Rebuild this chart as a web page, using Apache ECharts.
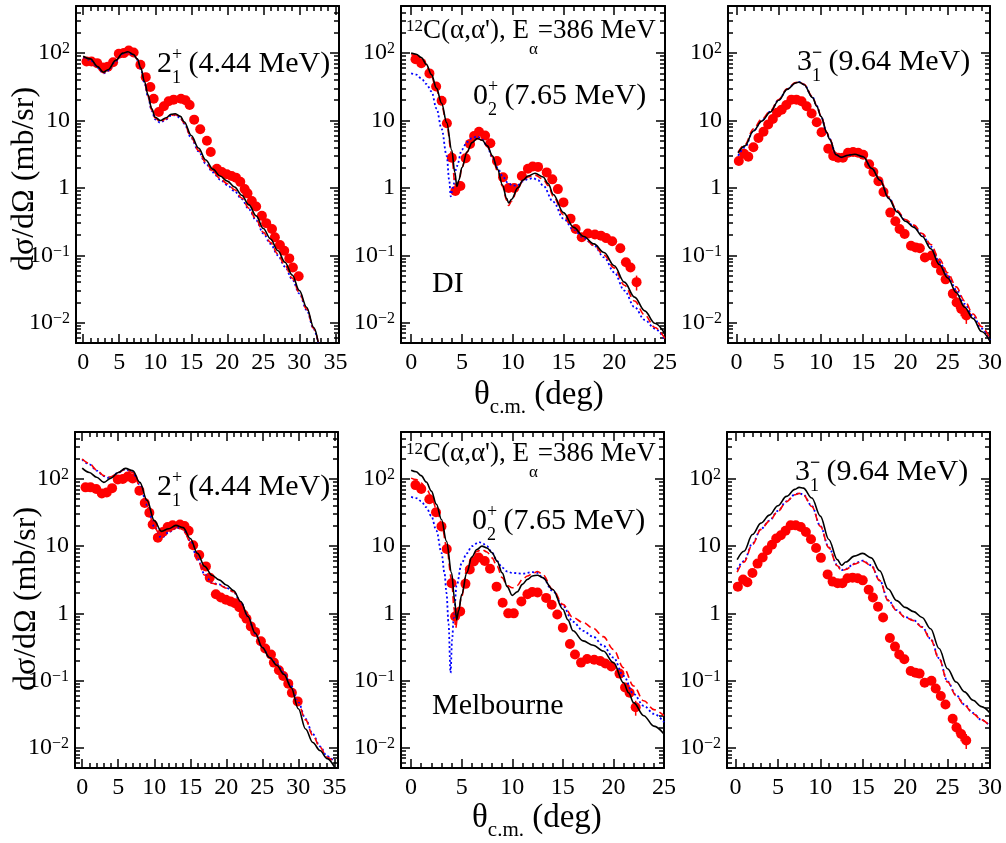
<!DOCTYPE html>
<html><head><meta charset="utf-8">
<script src="https://cdn.jsdelivr.net/npm/echarts@6/dist/echarts.min.js"></script>
<style>html,body{margin:0;padding:0;background:#fff}#c{width:1006px;height:843px}</style>
</head><body><div id="c"></div>
<script>
const FONT = '"Liberation Serif", "Times New Roman", serif';

// ---------- tick labels ----------
const xTicks35 = [0, 5, 10, 15, 20, 25, 30, 35];
const xTicks25 = [0, 5, 10, 15, 20, 25];
const xTicks30 = [0, 5, 10, 15, 20, 25, 30];
const yTickExp = [-2, -1, 0, 1, 2];
const yTickLabels = ['10{s|\u22122}', '10{s|\u22121}', '1', '10', '10{s|2}'];
const yMin = 0.005, yMax = 500;

// ---------- experimental data (same data in both rows) ----------
const ang2 = [0.46,1.15,1.94,2.72,3.41,4.15,4.94,5.63,6.32,7.0,7.94,8.68,9.32,9.78,10.5,11.2,11.86,12.55,13.57,14.2,14.77,15.4,16.24,17.17,17.7,18.55,19.24,19.94,20.6,21.2,21.8,22.4,22.8,23.4,24.0,24.8,25.4,26.2,26.6,27.3,27.9,28.6,29.1,29.9];
const val2 = [75,75,71,61,63,73,98,100,109,102,67,44,31.5,21,13.4,16.3,19.3,20.4,21,20,17,10.3,7.4,5.0,3.4,1.93,1.72,1.59,1.5,1.42,1.23,0.96,0.83,0.64,0.53,0.385,0.30,0.245,0.185,0.142,0.117,0.09,0.066,0.049];

const ang0 = [0.43,1.0,1.8,2.46,3.0,3.52,4.0,4.35,4.85,5.37,5.8,6.2,6.68,7.28,7.8,8.45,9.05,9.6,10.15,10.9,11.5,11.97,12.5,13.35,13.9,14.45,15.0,15.7,16.2,16.8,17.4,18.1,18.7,19.2,19.8,20.6,21.15,21.6,22.2];
const val0 = [81,71,50,32,19.7,9.1,2.8,0.9,1.07,2.75,4.5,5.9,6.8,6.0,4.6,2.5,1.44,1.0,1.0,1.5,1.92,2.08,2.05,1.7,1.34,0.96,0.61,0.35,0.245,0.185,0.21,0.204,0.195,0.18,0.162,0.127,0.079,0.066,0.04];
const err0 = [0.04,0.04,0.04,0.04,0.04,0.04,0.04,0.04,0.04,0.04,0.04,0.04,0.04,0.04,0.04,0.04,0.04,0.04,0.04,0.04,0.04,0.04,0.04,0.04,0.04,0.04,0.04,0.04,0.04,0.04,0.04,0.04,0.04,0.04,0.04,0.05,0.08,0.12,0.25];

const ang3 = [0.28,0.9,1.4,2.0,2.6,3.2,3.75,4.3,4.8,5.35,5.9,6.5,7.1,7.7,8.3,8.9,9.5,10.07,10.86,11.45,12.04,12.6,13.2,13.8,14.4,15.0,15.7,16.2,16.8,17.4,18.2,18.8,19.3,19.9,20.65,21.2,21.7,22.3,23.1,23.6,24.2,24.75,25.6,26.05,26.6,27.2];
const val3 = [2.5,3.2,2.9,4.0,5.5,6.8,8.7,10.5,13,14.5,17,20.4,20.4,19.3,16.3,12.7,9.4,6.7,3.8,2.97,2.8,2.8,3.33,3.4,3.33,3.1,2.24,1.72,1.26,0.87,0.43,0.32,0.245,0.207,0.139,0.131,0.127,0.093,0.099,0.076,0.059,0.044,0.027,0.020,0.016,0.0128];
const err3 = [0.04,0.04,0.04,0.04,0.04,0.04,0.04,0.04,0.04,0.04,0.04,0.04,0.04,0.04,0.04,0.04,0.04,0.04,0.04,0.04,0.04,0.04,0.04,0.04,0.04,0.04,0.04,0.04,0.04,0.04,0.04,0.04,0.04,0.04,0.04,0.04,0.04,0.04,0.04,0.04,0.05,0.08,0.15,0.2,0.22,0.25];

// ---------- DI calculations (top row) ----------
const di2Solid = [[0,90],[1,82],[2,63],[2.8,52],[3.5,57],[4.5,78],[5.5,100],[6.2,105],[7,95],[7.5,82],[8,60],[8.5,38],[9,24],[9.5,15],[10,11.2],[10.7,10],[11.5,11],[12.2,12.4],[12.8,12.6],[13.5,11.5],[14,9.6],[15,6.0],[16,3.9],[17,2.6],[18,1.9],[19,1.5],[20,1.26],[21,1.03],[22,0.78],[23,0.56],[24,0.385],[25,0.25],[26,0.175],[27,0.118],[28,0.079],[29,0.051],[30,0.030],[31,0.017],[32,0.0085],[32.6,0.0052]];
const di2Dash = [[0,88],[1,80],[2,62],[2.8,51],[3.5,56],[4.5,77],[5.5,99],[6.2,104],[7,94],[7.5,81],[8,59],[8.5,37],[9,23],[9.5,14.5],[10,10.8],[10.7,9.6],[11.5,10.6],[12.2,12],[12.8,12.2],[13.5,11],[14,9.2],[15,5.6],[16,3.6],[17,2.4],[18,1.75],[19,1.38],[20,1.15],[21,0.94],[22,0.71],[23,0.5],[24,0.34],[25,0.22],[26,0.155],[27,0.105],[28,0.071],[29,0.046],[30,0.028],[31,0.016],[32,0.0082],[32.6,0.0052]];
const di2Dot = [[0,87],[1,79],[2,61],[2.8,50],[3.5,55],[4.5,76],[5.5,98],[6.2,103],[7,93],[7.5,80],[8,58],[8.5,36],[9,22.5],[9.5,14],[10,10.4],[10.7,9.3],[11.5,10.4],[12.2,11.8],[12.8,12],[13.5,10.8],[14,9],[15,5.5],[16,3.5],[17,2.3],[18,1.7],[19,1.33],[20,1.1],[21,0.9],[22,0.68],[23,0.48],[24,0.33],[25,0.21],[26,0.148],[27,0.1],[28,0.068],[29,0.044],[30,0.027],[31,0.0155],[32,0.008],[32.6,0.0051]];

const di0Solid = [[0,100],[0.5,96],[1,86],[1.5,68],[2,48],[2.5,30],[3,18],[3.5,9.3],[4,3.6],[4.3,1.7],[4.5,1.05],[4.7,1.3],[5,2.0],[5.5,3.4],[6,4.7],[6.5,5.4],[7,5.1],[7.5,4.2],[8,3.0],[8.5,1.9],[9,1.1],[9.4,0.7],[9.6,0.6],[9.9,0.68],[10.5,1.0],[11,1.3],[11.5,1.5],[12.2,1.65],[13,1.45],[13.5,1.15],[14,0.8],[15,0.43],[16,0.26],[17,0.19],[18,0.148],[19,0.11],[20,0.07],[21,0.04],[22,0.024],[23,0.015],[24,0.0098],[25,0.0068]];
const di0Dash = [[0,95],[0.5,91],[1,80],[1.5,64],[2,45],[2.5,28],[3,17],[3.5,8.6],[4,3.1],[4.3,1.2],[4.45,0.9],[4.7,1.2],[5,2.0],[5.5,3.4],[6,4.8],[6.5,5.5],[7,5.1],[7.5,4.1],[8,2.9],[8.5,1.8],[9,1.05],[9.4,0.66],[9.6,0.55],[9.9,0.64],[10.5,0.98],[11,1.27],[11.5,1.45],[12.2,1.55],[13,1.35],[13.5,1.08],[14,0.75],[15,0.4],[16,0.25],[17,0.185],[18,0.14],[19,0.1],[20,0.065],[21,0.036],[22,0.021],[23,0.013],[24,0.0085],[25,0.0058]];
const di0Dot = [[0,50],[0.5,48],[1,42],[1.5,35],[2,27],[2.5,15],[3,7.5],[3.5,3.0],[3.75,1.3],[3.9,0.75],[4.1,1.0],[4.5,2.1],[5,3.7],[5.5,4.8],[6,5.5],[6.5,5.8],[7,5.2],[7.5,4.1],[8,2.8],[8.5,2.0],[9,1.5],[9.5,1.2],[10,1.08],[10.5,1.1],[11,1.25],[11.5,1.35],[12,1.4],[12.5,1.3],[13,1.08],[14,0.62],[15,0.35],[16,0.24],[17,0.18],[18,0.14],[19,0.093],[20,0.056],[21,0.03],[22,0.017],[23,0.011],[24,0.0082],[25,0.0055]];

const di3Solid = [[0.2,3.3],[1,4.2],[2,7.0],[3,9.8],[4,13.3],[5,20],[6,29],[7,36],[7.4,37],[8,34],[9,22],[9.5,16.3],[10,11.5],[10.7,6.6],[11,5.3],[11.8,3.1],[12.4,2.85],[13.2,3.05],[14,3.15],[15,2.9],[16,1.95],[17,1.3],[18,0.7],[19,0.44],[20,0.32],[21,0.26],[22,0.19],[23,0.125],[24,0.073],[25,0.046],[26,0.028],[27,0.017],[28,0.0115],[29,0.0074],[30,0.0053]];
const di3Dash = [[0.2,3.4],[1,4.4],[2,7.5],[3,10.5],[4,13.8],[5,20.5],[6,29.5],[7,36.5],[7.4,37.5],[8,34.5],[9,22.5],[9.5,16.6],[10,11.7],[10.7,6.7],[11,5.4],[11.8,3.15],[12.4,2.9],[13.2,3.1],[14,3.2],[15,2.95],[16,2.0],[17,1.35],[18,0.74],[19,0.46],[20,0.34],[21,0.28],[22,0.21],[23,0.145],[24,0.088],[25,0.055],[26,0.034],[27,0.021],[28,0.0135],[29,0.0088],[30,0.0058]];
const di3Dot = [[0.2,3.0],[1,4.0],[2,7.0],[3,10],[4,13.6],[5,20.3],[6,29.3],[7,36.2],[7.4,37.3],[8,34.2],[9,22.3],[9.5,16.5],[10,11.6],[10.7,6.6],[11,5.35],[11.8,3.1],[12.4,2.85],[13.2,3.07],[14,3.17],[15,2.92],[16,1.98],[17,1.32],[18,0.72],[19,0.45],[20,0.33],[21,0.27],[22,0.2],[23,0.135],[24,0.08],[25,0.05],[26,0.031],[27,0.019],[28,0.0125],[29,0.0082],[30,0.0055]];

// ---------- Melbourne calculations (bottom row) ----------
const mb2Solid = [[0,145],[1,125],[2,106],[3,89],[4,103],[5,125],[6,144],[7,133],[8,89],[9,48],[10,24],[11,16.6],[12,18.2],[13,20.4],[14,18.9],[15,13],[16,7.8],[17,5.0],[18,3.7],[19,3.15],[20,2.65],[21,2.19],[22,1.5],[23,0.9],[24,0.51],[25,0.31],[26,0.22],[27,0.169],[28,0.124],[29,0.079],[30,0.038],[31,0.019],[32,0.012],[33,0.0091],[34,0.0069],[35,0.0052]];
const mb2Dash = [[0,198],[1,170],[2,136],[3,112],[3.5,106],[4,108],[5,125],[6,140],[7,125],[8,80],[9,40],[10,19],[11,13.5],[12,16.3],[13,19.3],[14,18.3],[15,11.6],[16,6.2],[17,3.7],[18,2.8],[19,2.65],[20,2.37],[21,2.1],[22,1.45],[23,0.86],[24,0.49],[25,0.31],[26,0.22],[27,0.175],[28,0.124],[29,0.079],[30,0.045],[31,0.026],[32,0.0153],[33,0.0102],[34,0.0072],[35,0.006]];
const mb2Dot = [[0,195],[1,165],[2,133],[3,110],[3.5,104],[4,107],[5,124],[6,139],[7,126],[8,82],[9,41],[10,19.5],[11,13.3],[12,16],[13,19],[14,18.5],[15,12],[16,6.4],[17,3.8],[18,2.85],[19,2.7],[20,2.4],[21,2.1],[22,1.47],[23,0.88],[24,0.5],[25,0.31],[26,0.22],[27,0.178],[28,0.13],[29,0.083],[30,0.047],[31,0.027],[32,0.016],[33,0.0105],[34,0.0075],[35,0.0062]];

const mb0Solid = [[0,135],[0.5,128],[1,112],[1.5,90],[2,66],[2.5,42],[3,25],[3.5,11.8],[4,4.0],[4.3,1.6],[4.5,0.8],[4.7,1.1],[5,1.9],[5.5,4.0],[6,6.9],[6.5,8.9],[7,10],[7.5,9.4],[8,8.0],[8.5,6.0],[9,4.0],[9.5,2.5],[10,1.85],[10.5,2.1],[11,2.7],[11.5,3.2],[12,3.6],[12.5,3.7],[13,3.4],[14,2.27],[15,1.15],[15.5,0.8],[16,0.55],[17,0.39],[18,0.335],[19,0.275],[20,0.185],[21,0.093],[21.5,0.066],[22,0.047],[23,0.03],[24,0.021],[25,0.016]];
const mb0Dash = [[0,103],[0.5,98],[1,87],[1.5,72],[2,55],[2.5,36],[3,22],[3.5,10],[4,3.2],[4.25,1.2],[4.4,0.6],[4.6,0.9],[5,1.8],[5.5,4.5],[6,6.7],[6.5,8.4],[7,8.9],[7.5,8.2],[8,6.7],[8.5,5.0],[9,3.4],[9.5,2.6],[10,2.4],[10.5,2.6],[11,3.2],[11.5,3.6],[12,3.9],[12.5,4.2],[13,3.8],[14,2.27],[15,1.36],[16,0.87],[17,0.73],[18,0.6],[19,0.45],[20,0.29],[21,0.155],[22,0.083],[23,0.05],[24,0.037],[25,0.03]];
const mb0Dot = [[0,54],[0.5,52],[1,46.6],[1.5,38],[2,28],[2.5,17],[3,8],[3.3,4],[3.5,2.0],[3.7,0.7],[3.9,0.13],[4.05,0.4],[4.2,0.8],[4.5,2.6],[5,5.6],[5.5,7.8],[6,10],[6.7,11.5],[7,11.2],[7.5,10],[8,8],[8.5,6],[9,4.8],[9.5,4.2],[10,4.0],[11,3.9],[12,4.1],[12.5,4.0],[13,3.4],[14,2.15],[15,1.3],[16,0.75],[17,0.55],[18,0.45],[19,0.33],[20,0.22],[21,0.117],[22,0.063],[23,0.042],[24,0.032],[25,0.024]];

const mb3Solid = [[0.2,6.3],[1,8.4],[2,14.9],[3,22],[4,29],[5,40],[6,55],[7,70],[7.5,75],[8,73],[9,52],[10,28],[11,12.6],[12,6.3],[12.5,5.2],[13,5.8],[14,7.1],[15,7.8],[16,6.7],[17,4.3],[18,2.3],[19,1.55],[20,1.23],[21,1.06],[22,0.87],[23,0.59],[24,0.3],[25,0.15],[26,0.095],[27,0.068],[28,0.051],[29,0.041],[30,0.033]];
const mb3Dash = [[0.2,4.1],[1,5.8],[2,10.6],[3,17.8],[4,23.6],[5,33],[6,46],[7,58],[7.5,61],[8,58],[9,39],[10,19.8],[11,9.5],[12,5.1],[12.5,4.3],[13,4.5],[14,5.4],[15,6.0],[16,5.1],[17,3.07],[18,1.55],[19,1.1],[20,0.87],[21,0.78],[22,0.62],[23,0.41],[24,0.21],[25,0.095],[26,0.06],[27,0.043],[28,0.032],[29,0.026],[30,0.021]];
const mb3Dot = [[0.2,4.5],[1,6.0],[2,11],[3,18],[4,24],[5,33.5],[6,46.5],[7,58.5],[7.5,61.5],[8,58.5],[9,39.5],[10,20],[11,9.6],[12,5.2],[12.5,4.4],[13,4.6],[14,5.5],[15,6.1],[16,5.2],[17,3.1],[18,1.57],[19,1.12],[20,0.88],[21,0.79],[22,0.63],[23,0.42],[24,0.215],[25,0.097],[26,0.061],[27,0.044],[28,0.033],[29,0.026],[30,0.021]];

// ---------- layout ----------
const panels = [
  {grid:{left:76, top:6, width:263, height:337}, xmin:-1, xmax:35.5, ticks:xTicks35, ang:ang2, val:val2, err:null, curves:[di2Solid, di2Dash, di2Dot]},
  {grid:{left:401, top:6, width:264, height:337}, xmin:-1, xmax:25, ticks:xTicks25, ang:ang0, val:val0, err:err0, curves:[di0Solid, di0Dash, di0Dot]},
  {grid:{left:728, top:6, width:262, height:337}, xmin:-1, xmax:30, ticks:xTicks30, ang:ang3, val:val3, err:err3, curves:[di3Solid, di3Dash, di3Dot]},
  {grid:{left:75, top:432, width:263, height:336}, xmin:-1, xmax:35.5, ticks:xTicks35, ang:ang2, val:val2, err:null, curves:[mb2Solid, mb2Dash, mb2Dot]},
  {grid:{left:401, top:432, width:263, height:336}, xmin:-1, xmax:25, ticks:xTicks25, ang:ang0, val:val0, err:err0, curves:[mb0Solid, mb0Dash, mb0Dot]},
  {grid:{left:727, top:432, width:263, height:336}, xmin:-1, xmax:30, ticks:xTicks30, ang:ang3, val:val3, err:err3, curves:[mb3Solid, mb3Dash, mb3Dot]}
];

const lineStyles = [
  {color:'#000000', width:1.6, type:'solid'},
  {color:'#ff0000', width:1.6, type:[7,4]},
  {color:'#0000ff', width:1.8, type:[2,2.5]}
];

const lmin = Math.log10(yMin), lmax = Math.log10(yMax);
const yMinor = [];
for (let n = -3; n <= 2; n++) for (let k = 2; k <= 9; k++) {
  const v = k * Math.pow(10, n);
  if (v > yMin && v < yMax) yMinor.push(Math.log10(v));
}
const frame = {color:'#000', width:2};
const tickLS = {color:'#000', width:1.5};

const grids = [], xAxes = [], yAxes = [], series = [];
panels.forEach((p, g) => {
  grids.push(Object.assign({containLabel:false}, p.grid));
  const xMinor = [];
  for (let v = 0; v <= p.xmax; v++) xMinor.push(v);
  const xi = xAxes.length, yi = yAxes.length;
  const xb = {type:'value', gridIndex:g, min:p.xmin, max:p.xmax, splitLine:{show:false}};
  xAxes.push(Object.assign({}, xb, {position:'bottom',
    axisLine:{show:true, onZero:false, lineStyle:frame},
    axisTick:{show:true, inside:true, length:9, customValues:p.ticks, lineStyle:tickLS},
    axisLabel:{show:true, customValues:p.ticks, fontSize:24, fontFamily:FONT, color:'#000', margin:8}}));
  xAxes.push(Object.assign({}, xb, {position:'bottom',
    axisLine:{show:false, onZero:false},
    axisTick:{show:true, inside:true, length:5, customValues:xMinor, lineStyle:tickLS},
    axisLabel:{show:false}}));
  xAxes.push(Object.assign({}, xb, {position:'top',
    axisLine:{show:true, onZero:false, lineStyle:frame},
    axisTick:{show:true, inside:true, length:9, customValues:p.ticks, lineStyle:tickLS},
    axisLabel:{show:false}}));
  xAxes.push(Object.assign({}, xb, {position:'top',
    axisLine:{show:false, onZero:false},
    axisTick:{show:true, inside:true, length:5, customValues:xMinor, lineStyle:tickLS},
    axisLabel:{show:false}}));
  // data axis (log)
  yAxes.push({type:'log', logBase:10, gridIndex:g, min:yMin, max:yMax, position:'left',
    axisLine:{show:true, onZero:false, lineStyle:frame}, axisTick:{show:false}, axisLabel:{show:false}, splitLine:{show:false}, minorTick:{show:false}});
  const yb = {type:'value', gridIndex:g, min:lmin, max:lmax, splitLine:{show:false}};
  yAxes.push(Object.assign({}, yb, {position:'left',
    axisLine:{show:false, onZero:false},
    axisTick:{show:true, inside:true, length:9, customValues:yTickExp, lineStyle:tickLS},
    axisLabel:{show:true, customValues:yTickExp, margin:6, fontSize:24, fontFamily:FONT, color:'#000',
      formatter: v => yTickLabels[yTickExp.indexOf(Math.round(v))],
      rich:{s:{fontSize:16, fontFamily:FONT, color:'#000', verticalAlign:'top', lineHeight:16}}}}));
  yAxes.push(Object.assign({}, yb, {position:'left',
    axisLine:{show:false, onZero:false},
    axisTick:{show:true, inside:true, length:5, customValues:yMinor, lineStyle:tickLS},
    axisLabel:{show:false}}));
  yAxes.push(Object.assign({}, yb, {position:'right',
    axisLine:{show:true, onZero:false, lineStyle:frame},
    axisTick:{show:true, inside:true, length:9, customValues:yTickExp, lineStyle:tickLS},
    axisLabel:{show:false}}));
  yAxes.push(Object.assign({}, yb, {position:'right',
    axisLine:{show:false, onZero:false},
    axisTick:{show:true, inside:true, length:5, customValues:yMinor, lineStyle:tickLS},
    axisLabel:{show:false}}));

  // experimental points
  series.push({type:'scatter', xAxisIndex:xi, yAxisIndex:yi, symbol:'circle', symbolSize:10,
    itemStyle:{color:'#ff0000', opacity:1}, z:2, silent:true,
    data: p.ang.map((a, i) => [a, p.val[i]])});
  if (p.err) {
    series.push({type:'custom', xAxisIndex:xi, yAxisIndex:yi, z:2, silent:true,
      data: p.ang.map((a, i) => [a, p.val[i] * (1 - p.err[i]), p.val[i] * (1 + p.err[i])]),
      renderItem: (params, api) => {
        const a = api.coord([api.value(0), api.value(1)]);
        const b = api.coord([api.value(0), api.value(2)]);
        return {type:'line', shape:{x1:a[0], y1:a[1], x2:b[0], y2:b[1]}, style:{stroke:'#ff0000', lineWidth:1.5}};
      }});
  }
  // calculations
  p.curves.forEach((c, k) => {
    series.push({type:'line', xAxisIndex:xi, yAxisIndex:yi, data:c, showSymbol:false, symbol:'none',
      smooth:0.35, smoothMonotone:'x', lineStyle:lineStyles[k], z:3 + (2 - k), silent:true, clip:true});
  });
});

// ---------- text ----------
const mctx = document.createElement('canvas').getContext('2d');
function tw(t, s) { mctx.font = s + 'px ' + FONT; return mctx.measureText(t).width; }
function run(x, y, parts) {
  const els = []; let cx = x;
  parts.forEach(p => {
    els.push({type:'text', x:cx, y:y + (p.dy || 0), z:10,
      style:{text:p.t, font:(p.w || '') + ' ' + p.s + 'px ' + FONT, fill:'#000', align:'left', verticalAlign:'middle'}});
    if (!p.hold) cx += tw(p.t, p.s);
  });
  return els;
}
const level = (x, y, d, sup, sub, rest) => run(x, y, [
  {t:d, s:30}, {t:sup, s:18, dy:-9, hold:true, w:(sup === '+' ? '' : 'bold')}, {t:sub, s:18, dy:14}, {t:rest, s:30}]);
const header = (x, y) => run(x, y, [
  {t:'12', s:17, dy:-4}, {t:'C(\u03b1,\u03b1\'), E', s:27}, {t:'\u03b1', s:17, dy:19}, {t:'=386 MeV', s:27}]);
const xTitle = (x, y) => run(x, y, [{t:'\u03b8', s:33}, {t:'c.m.', s:21, dy:12}, {t:' (deg)', s:33}]);
const yTitle = (x, y) => ({type:'text', x:x, y:y, rotation:Math.PI / 2, z:10,
  style:{text:'d\u03c3/d\u03a9 (mb/sr)', font:'32px ' + FONT, fill:'#000', align:'center', verticalAlign:'middle'}});
const plain = (x, y, t) => ({type:'text', x:x, y:y, z:10,
  style:{text:t, font:'30px ' + FONT, fill:'#000', align:'left', verticalAlign:'middle'}});

const graphic = [].concat(
  level(157, 64, '2', '+', '1', ' (4.44 MeV)'),
  header(406, 31),
  level(473, 96, '0', '+', '2', ' (7.65 MeV)'),
  [plain(432, 284, 'DI')],
  level(797, 62, '3', '\u2212', '1', ' (9.64 MeV)'),
  level(157, 487, '2', '+', '1', ' (4.44 MeV)'),
  header(406, 454),
  level(472, 521, '0', '+', '2', ' (7.65 MeV)'),
  [plain(432, 706, 'Melbourne')],
  level(795, 472, '3', '\u2212', '1', ' (9.64 MeV)'),
  xTitle(474, 395),
  xTitle(472, 818),
  [yTitle(25, 179), yTitle(27, 599)]
);

const chart = echarts.init(document.getElementById('c'), null, {renderer:'canvas'});
chart.setOption({
  animation:false,
  backgroundColor:'#fff',
  grid:grids, xAxis:xAxes, yAxis:yAxes, series:series, graphic:graphic
});
</script>
</body></html>
